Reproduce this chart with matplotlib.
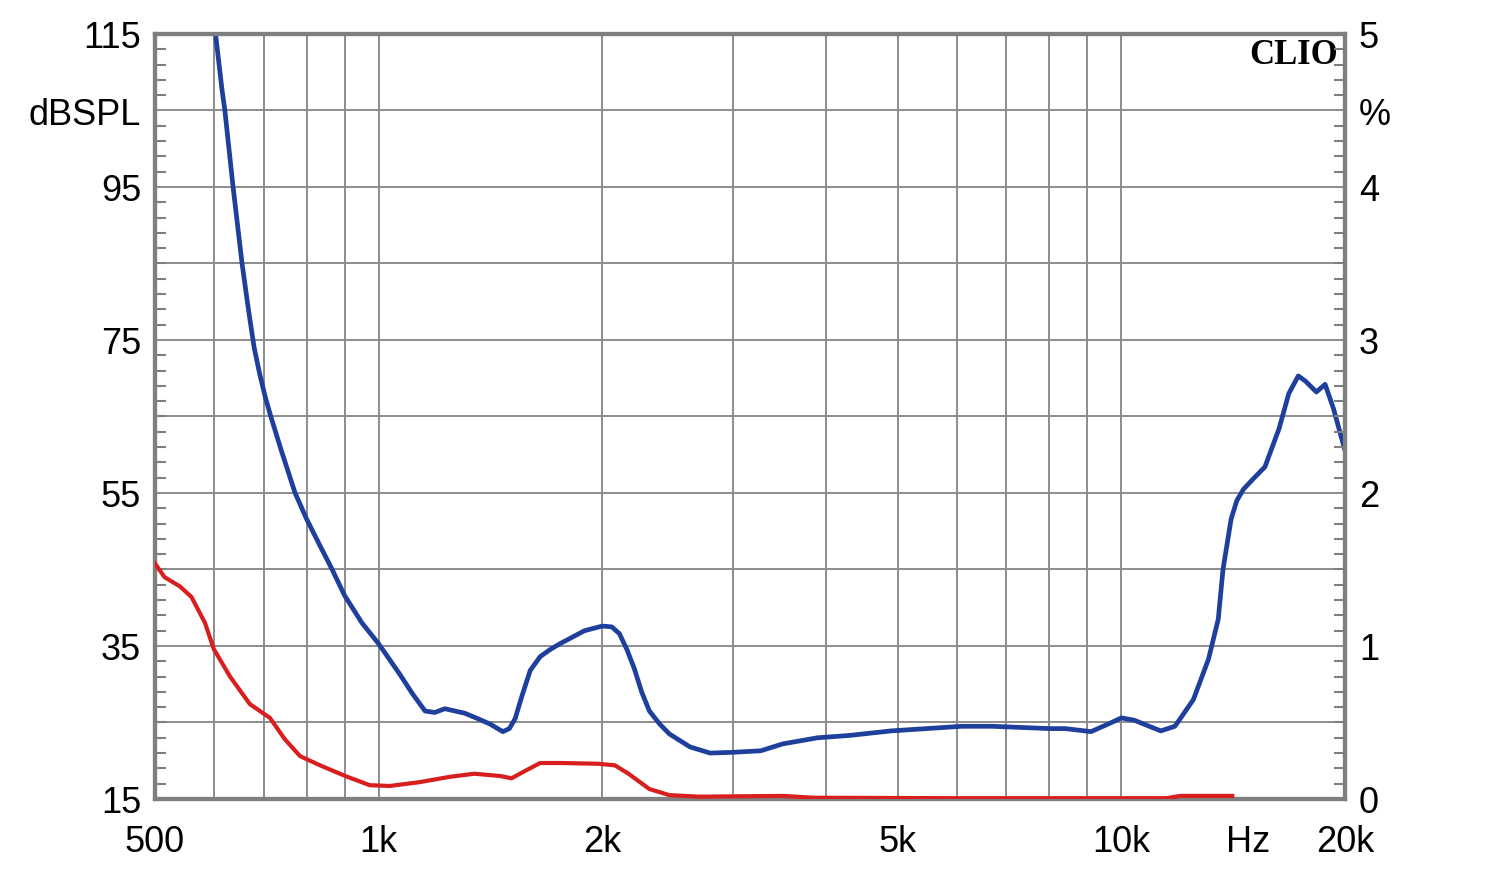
import matplotlib
matplotlib.use("Agg")
import matplotlib.pyplot as plt
from matplotlib.ticker import FixedLocator, NullFormatter

plt.rcParams['font.family'] = ['Liberation Sans', 'DejaVu Sans']

# blue trace, dBSPL
blue_f = [600, 615, 621, 637, 655, 668, 680, 692, 704, 716, 740, 772, 800,
          835, 866, 900, 950, 1000, 1068, 1110, 1155, 1190, 1228, 1307, 1360,
          1412, 1470, 1500, 1527, 1560, 1600, 1650, 1700, 1755, 1894, 2000,
          2060, 2110, 2160, 2210, 2260, 2315, 2390, 2463, 2626, 2794, 3000,
          3270, 3500, 3900, 4300, 4900, 6100, 6700, 8000, 8400, 9100, 9600,
          10000, 10400, 10900, 11300, 11800, 12000, 12500, 13100, 13500,
          13700, 14050, 14300, 14600, 15100, 15600, 16300, 16800, 17300,
          17700, 18300, 18800, 19300, 20000]
blue_db = [117, 108, 105, 95, 85, 79, 74, 70.5, 67.5, 65, 60.5, 55, 51.6,
           48, 45, 41.6, 38, 35.3, 31.3, 28.8, 26.5, 26.3, 26.8, 26.2, 25.5,
           24.8, 23.8, 24.2, 25.5, 28.5, 31.8, 33.6, 34.5, 35.3, 37, 37.6,
           37.5, 36.6, 34.5, 32, 29, 26.5, 24.8, 23.5, 21.8, 21, 21.1, 21.3,
           22.2, 23, 23.3, 23.9, 24.5, 24.5, 24.2, 24.2, 23.8, 24.8, 25.6,
           25.3, 24.5, 23.9, 24.5, 25.5, 28, 33.3, 38.5, 45, 51.6, 54,
           55.5, 57, 58.4, 63.4, 68, 70.3, 69.6, 68.2, 69.2, 66, 60.5]

# red trace, percent
red_f = [500, 515, 540, 560, 584, 600, 631, 671, 714, 748, 784, 834, 902, 973,
         1036, 1136, 1248, 1345, 1458, 1510, 1577, 1650, 1760, 1975, 2080,
         2170, 2315, 2463, 2700, 3500, 3850, 6000, 9000, 11500, 12000, 14100]
red_pct = [1.54, 1.45, 1.39, 1.32, 1.15, 0.98, 0.80, 0.62, 0.53, 0.39, 0.28,
           0.22, 0.15, 0.09, 0.085, 0.11, 0.145, 0.165, 0.15, 0.135, 0.185,
           0.235, 0.235, 0.23, 0.22, 0.165, 0.065, 0.025, 0.015, 0.02, 0.008,
           0.005, 0.005, 0.005, 0.02, 0.02]

x_ticks = [500, 1000, 2000, 5000, 10000, 20000]
x_labels = ['500', '1k', '2k', '5k', '10k', '20k']
x_grid = [600, 700, 800, 900, 1000, 2000, 3000, 4000, 5000, 6000, 7000, 8000,
          9000, 10000]
left_ticks = [15, 35, 55, 75, 95, 105, 115]
left_labels = ['15', '35', '55', '75', '95', 'dBSPL', '115']
right_ticks = [0, 1, 2, 3, 4, 4.5, 5]
right_labels = ['0', '1', '2', '3', '4', '%', '5']

grid_col = '#8c8c8c'
frame_col = '#7f7f7f'

fig = plt.figure(figsize=(15, 8.7), dpi=100)
ax = fig.add_axes([0.1033, 0.0805, 0.7934, 0.8793])
ax.set_xscale('log')
ax.set_xlim(500, 20000)
ax.set_ylim(15, 115)

for f in x_grid:
    ax.axvline(f, color=grid_col, lw=1.4, zorder=1)
for d in range(25, 115, 10):
    ax.axhline(d, color=grid_col, lw=1.4, zorder=1)

ax.plot(blue_f, blue_db, color='#1f3f9c', lw=3.4, zorder=3,
        solid_joinstyle='round')

ax2 = ax.twinx()
ax2.set_ylim(0, 5)
ax2.plot(red_f, red_pct, color='#d81e1e', lw=3, zorder=3,
         solid_joinstyle='round')

for s in list(ax.spines.values()) + list(ax2.spines.values()):
    s.set_color(frame_col)
    s.set_linewidth(3)

ax.xaxis.set_major_locator(FixedLocator(x_ticks))
ax.set_xticklabels(x_labels)
ax.xaxis.set_minor_formatter(NullFormatter())
ax.tick_params(axis='x', which='both', length=0, labelsize=26, pad=18)

ax.yaxis.set_major_locator(FixedLocator(left_ticks))
ax.set_yticklabels(left_labels)
ax.yaxis.set_minor_locator(FixedLocator(range(15, 116, 2)))
ax.tick_params(axis='y', which='major', length=0, labelsize=26, pad=10)
ax.tick_params(axis='y', which='minor', direction='in', length=8, width=1.5,
               color=frame_col)

ax2.yaxis.set_major_locator(FixedLocator(right_ticks))
ax2.set_yticklabels(right_labels)
ax2.yaxis.set_minor_locator(FixedLocator([i / 10 for i in range(51)]))
ax2.tick_params(axis='y', which='major', length=0, labelsize=26, pad=10)
ax2.tick_params(axis='y', which='minor', direction='in', length=8, width=1.5,
                color=frame_col)

ax.annotate('Hz', xy=(14800, 0), xycoords=('data', 'axes fraction'),
            xytext=(0, -18), textcoords='offset points', ha='center',
            va='top', fontsize=26)
ax.text(0.994, 0.995, 'CLIO', transform=ax.transAxes, ha='right', va='top',
        fontsize=25, fontweight='bold', family='Liberation Serif')

fig.savefig('out.png', dpi=100)
